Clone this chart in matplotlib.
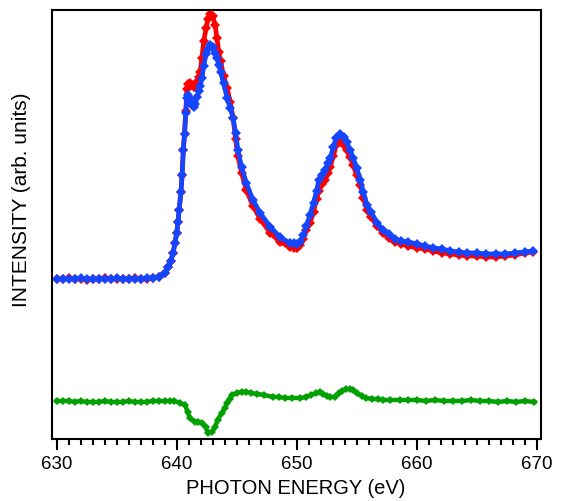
import matplotlib
matplotlib.use("Agg")
import matplotlib.pyplot as plt
from matplotlib.ticker import MultipleLocator

plt.rcParams['font.family'] = ['Liberation Sans', 'DejaVu Sans']

# photon energy (eV) shared by the two spectra
energy = [630.0, 630.5, 631.0, 631.5, 632.0, 632.5, 633.0, 633.5, 634.0, 634.5,
          635.0, 635.5, 636.0, 636.5, 637.0, 637.5, 638.0, 638.5, 639.0, 639.3,
          639.5, 639.7, 639.85, 640.0, 640.1, 640.2, 640.35, 640.45, 640.55, 640.65,
          640.75, 640.85, 640.95, 641.1, 641.25, 641.4, 641.55, 641.7, 641.85, 641.95,
          642.1, 642.25, 642.45, 642.6, 642.8, 643.0, 643.2, 643.35, 643.5, 643.65,
          643.9, 644.2, 644.45, 644.7, 644.9, 645.1, 645.4, 645.8, 646.35, 646.95,
          647.8, 648.6, 649.4, 649.75, 650.0, 650.3, 650.55, 650.8, 651.1, 651.4,
          651.65, 651.85, 652.1, 652.35, 652.6, 652.8, 653.05, 653.3, 653.6, 653.9,
          654.15, 654.45, 654.7, 655.0, 655.3, 655.55, 655.85, 656.2, 656.7, 657.2,
          657.7, 658.2, 658.7, 659.3, 660.0, 660.7, 661.4, 662.1, 662.8, 663.5,
          664.2, 665.0, 665.8, 666.6, 667.4, 668.2, 669.0, 669.7]

red = [0.00, 0.00, 0.01, 0.00, 0.00, -0.01, 0.00, 0.00, 0.01, 0.00,
       0.00, 0.00, 0.00, 0.01, 0.00, 0.00, 0.01, 0.02, 0.06, 0.12,
       0.18, 0.26, 0.36, 0.46, 0.57, 0.69, 0.87, 1.04, 1.29, 1.45,
       1.68, 1.90, 1.95, 1.96, 1.94, 1.92, 1.95, 1.97, 2.02, 2.07,
       2.21, 2.38, 2.51, 2.60, 2.65, 2.63, 2.54, 2.41, 2.27, 2.18,
       2.03, 1.91, 1.77, 1.61, 1.40, 1.23, 1.06, 0.89, 0.73, 0.60,
       0.46, 0.37, 0.32, 0.31, 0.31, 0.34, 0.40, 0.49, 0.56, 0.67,
       0.80, 0.88, 0.95, 0.99, 1.06, 1.12, 1.23, 1.34, 1.37, 1.34,
       1.29, 1.22, 1.14, 1.04, 0.94, 0.81, 0.69, 0.62, 0.53, 0.46,
       0.41, 0.37, 0.35, 0.33, 0.31, 0.30, 0.28, 0.26, 0.25, 0.24,
       0.23, 0.23, 0.22, 0.22, 0.23, 0.24, 0.26, 0.27]

blue = [0.00, 0.00, 0.00, 0.00, 0.01, 0.00, 0.00, 0.00, 0.00, 0.00,
        0.01, 0.00, 0.00, 0.00, 0.00, 0.01, 0.01, 0.02, 0.06, 0.12,
        0.18, 0.26, 0.36, 0.46, 0.57, 0.69, 0.87, 1.04, 1.29, 1.45,
        1.66, 1.81, 1.84, 1.80, 1.74, 1.72, 1.75, 1.82, 1.88, 1.93,
        2.01, 2.13, 2.25, 2.30, 2.34, 2.32, 2.26, 2.21, 2.14, 2.07,
        1.96, 1.81, 1.71, 1.61, 1.46, 1.29, 1.12, 0.96, 0.79, 0.66,
        0.52, 0.42, 0.36, 0.36, 0.35, 0.37, 0.44, 0.53, 0.64, 0.76,
        0.88, 0.99, 1.04, 1.09, 1.16, 1.21, 1.32, 1.41, 1.45, 1.42,
        1.37, 1.29, 1.21, 1.11, 0.99, 0.87, 0.74, 0.67, 0.56, 0.49,
        0.45, 0.40, 0.38, 0.37, 0.35, 0.33, 0.31, 0.30, 0.28, 0.27,
        0.26, 0.26, 0.25, 0.25, 0.25, 0.26, 0.27, 0.28]

# difference spectrum (offset)
energy_diff = [630.0, 630.5, 631.0, 631.5, 632.0, 632.5, 633.0, 633.5, 634.0, 634.5,
               635.0, 635.5, 636.0, 636.5, 637.0, 637.5, 638.0, 638.5, 639.0, 639.4,
               639.8, 640.3, 640.7, 640.9, 641.1, 641.5, 641.8, 642.1, 642.4, 642.6,
               642.9, 643.2, 643.4, 643.75, 644.0, 644.2, 644.4, 644.6, 645.0, 645.4,
               645.8, 646.2, 646.7, 647.3, 648.0, 648.5, 649.0, 649.6, 650.3, 650.8,
               651.2, 651.6, 651.9, 652.2, 652.5, 652.8, 653.2, 653.5, 653.8, 654.1,
               654.4, 654.7, 655.0, 655.4, 655.8, 656.3, 656.8, 657.2, 657.8, 658.6,
               659.3, 660.0, 660.8, 661.5, 662.3, 663.0, 663.8, 664.5, 665.3, 666.0,
               666.8, 667.5, 668.3, 669.0, 669.8]

diff = [-1.22, -1.22, -1.22, -1.23, -1.22, -1.23, -1.23, -1.23, -1.22, -1.23,
        -1.23, -1.23, -1.22, -1.23, -1.23, -1.23, -1.22, -1.22, -1.22, -1.22,
        -1.22, -1.24, -1.26, -1.33, -1.39, -1.43, -1.43, -1.44, -1.48, -1.54,
        -1.53, -1.48, -1.41, -1.34, -1.29, -1.24, -1.20, -1.16, -1.14, -1.13,
        -1.13, -1.14, -1.15, -1.16, -1.18, -1.18, -1.19, -1.19, -1.19, -1.18,
        -1.16, -1.14, -1.13, -1.15, -1.17, -1.18, -1.18, -1.14, -1.12, -1.10,
        -1.10, -1.11, -1.14, -1.17, -1.19, -1.20, -1.20, -1.21, -1.21, -1.21,
        -1.21, -1.21, -1.22, -1.21, -1.22, -1.22, -1.22, -1.21, -1.22, -1.22,
        -1.23, -1.22, -1.23, -1.22, -1.23]

xticks = [630, 640, 650, 660, 670]

fig = plt.figure(figsize=(5.62, 5.01), dpi=100)
ax = fig.add_axes([0.092, 0.1232, 0.870, 0.857])

ax.plot(energy_diff, diff, color='#00a000', lw=3.2, marker='D', ms=4.5, mew=0)
ax.plot(energy, red, color='#ff0000', lw=3.4, marker='D', ms=4.8, mew=0)
ax.plot(energy, blue, color='#1446ff', lw=3.4, marker='D', ms=4.8, mew=0)

ax.set_xlim(629.58, 670.33)
ax.set_ylim(-1.603, 2.69)

ax.set_xticks(xticks)
ax.xaxis.set_minor_locator(MultipleLocator(1))
ax.tick_params(axis='x', which='major', direction='out', length=8, width=1.5,
               labelsize=13.5, pad=4)
ax.tick_params(axis='x', which='minor', direction='out', length=4.5, width=1.5)
ax.set_yticks([])
for s in ax.spines.values():
    s.set_linewidth(1.5)

fig.text(296 / 562, 1 - 489 / 501, 'PHOTON ENERGY (eV)', fontsize=14.5,
         ha='center', va='center')
fig.text(22 / 562, 1 - 200 / 501, 'INTENSITY (arb. units)', fontsize=15,
         rotation=90, ha='center', va='center')

fig.savefig('out.png', dpi=100)
